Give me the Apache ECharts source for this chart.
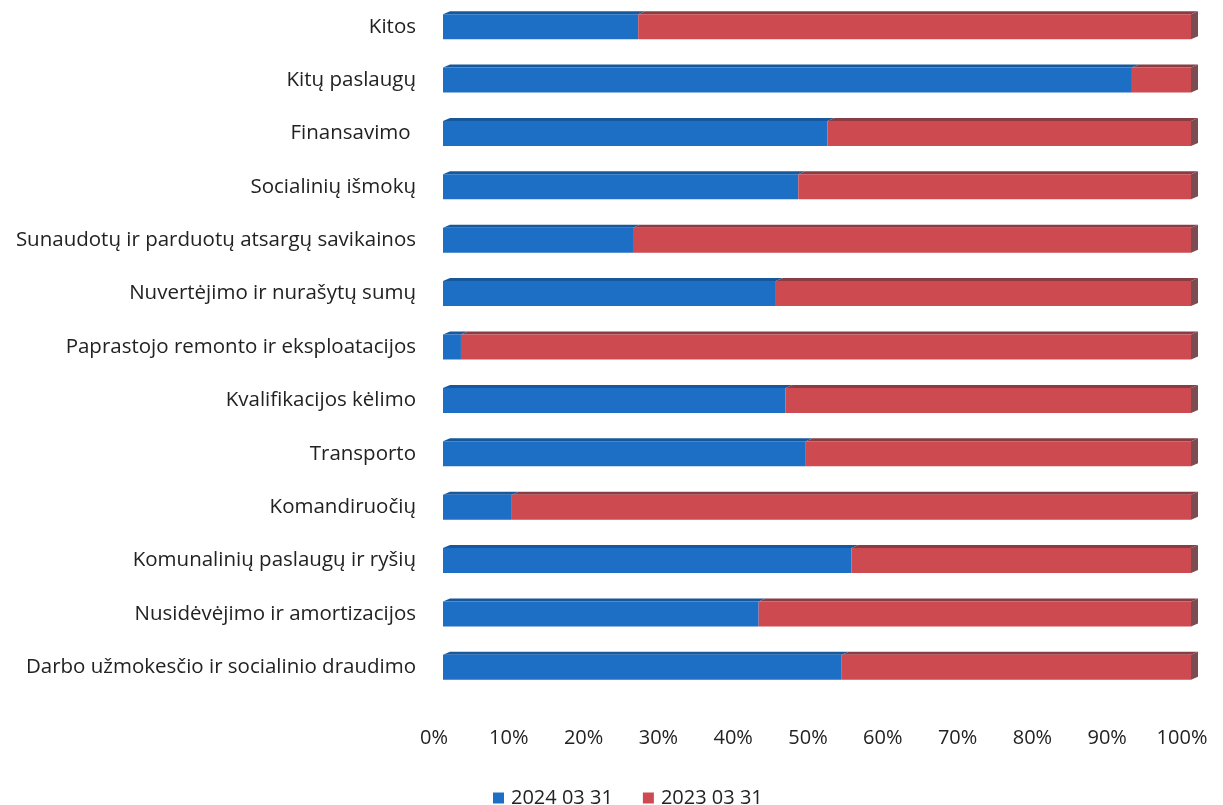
<!DOCTYPE html>
<html>
<head>
<meta charset="utf-8">
<script src="https://cdn.jsdelivr.net/npm/echarts@6/dist/echarts.min.js"></script>
<style>html,body{margin:0;padding:0;background:#fff}#c{width:1223px;height:805px}</style>
</head>
<body>
<div id="c"></div>
<script>
var categories = [
  'Kitos',
  'Kitų paslaugų',
  'Finansavimo ',
  'Socialinių išmokų',
  'Sunaudotų ir parduotų atsargų savikainos',
  'Nuvertėjimo ir nurašytų sumų',
  'Paprastojo remonto ir eksploatacijos',
  'Kvalifikacijos kėlimo',
  'Transporto',
  'Komandiruočių',
  'Komunalinių paslaugų ir ryšių',
  'Nusidėvėjimo ir amortizacijos',
  'Darbo užmokesčio ir socialinio draudimo'
];
var v2024 = [26.1, 92.1, 51.4, 47.5, 25.4, 44.5, 2.4, 45.8, 48.5, 9.2, 54.6, 42.2, 53.3];
var v2023 = [73.9, 7.9, 48.6, 52.5, 74.6, 55.5, 97.6, 54.2, 51.5, 90.8, 45.4, 57.8, 46.7];
var xTicks = ['0%','10%','20%','30%','40%','50%','60%','70%','80%','90%','100%'];
var seriesNames = ['2024 03 31', '2023 03 31'];

var COLORS = [
  {front:'#1d6ec5', top:'#17589c', side:'#174f8a'},
  {front:'#cd4a51', top:'#8a3c43', side:'#7b4c52'}
];
var BAR_H = 25, DX = 7, DY = -3;

function makeData(which){
  var out = [];
  for (var i = 0; i < categories.length; i++){
    var s = which === 0 ? 0 : v2024[i];
    var e = which === 0 ? v2024[i] : v2024[i] + v2023[i];
    out.push([i, s, e, which === 1 ? 1 : 0]);
  }
  return out;
}

function renderBar(which){
  return function(params, api){
    var idx = api.value(0);
    var p0 = api.coord([api.value(1), idx]);
    var p1 = api.coord([api.value(2), idx]);
    var x0 = p0[0], x1 = p1[0], yc = p0[1];
    var y0 = yc - BAR_H/2, y1 = yc + BAR_H/2;
    var c = COLORS[which];
    var children = [
      {type:'polygon', shape:{points:[[x0,y0],[x0+DX,y0+DY],[x1+DX,y0+DY],[x1,y0]]}, style:{fill:c.top}},
      {type:'rect', shape:{x:x0, y:y0, width:x1-x0, height:BAR_H}, style:{fill:c.front}}
    ];
    if (api.value(3) === 1){
      children.push({type:'polygon', shape:{points:[[x1,y0],[x1+DX,y0+DY],[x1+DX,y1+DY],[x1,y1]]}, style:{fill:c.side}});
    }
    return {type:'group', children: children};
  };
}

var chart = echarts.init(document.getElementById('c'), null, {renderer:'canvas'});
chart.setOption({
  animation:false,
  backgroundColor:'#ffffff',
  textStyle:{fontFamily:'Open Sans'},
  grid:{left:443, right:32, top:-7, bottom:111, containLabel:false},
  xAxis:{
    type:'value', min:0, max:100, interval:10,
    axisLine:{show:false}, axisTick:{show:false}, splitLine:{show:false},
    axisLabel:{
      margin:34, color:'#222', fontSize:20, fontFamily:'Open Sans',
      padding:[0,18,0,0],
      formatter:function(v){ return xTicks[Math.round(v/10)]; }
    }
  },
  yAxis:{
    type:'category', data:categories, inverse:true,
    axisLine:{show:false}, axisTick:{show:false}, splitLine:{show:false},
    axisLabel:{margin:27, color:'#222', fontSize:20.5, fontFamily:'Open Sans', padding:[12,0,0,0]}
  },
  legend:{
    top:783, left:488, itemWidth:11, itemHeight:11, itemGap:30,
    icon:'rect',
    textStyle:{fontSize:20, color:'#222', fontFamily:'Open Sans', padding:[0,0,0,2]},
    data:seriesNames
  },
  series:[
    {name:seriesNames[0], type:'custom', renderItem:renderBar(0), data:makeData(0),
     encode:{x:[1,2], y:0}, itemStyle:{color:COLORS[0].front}},
    {name:seriesNames[1], type:'custom', renderItem:renderBar(1), data:makeData(1),
     encode:{x:[1,2], y:0}, itemStyle:{color:COLORS[1].front}}
  ]
});
</script>
</body>
</html>
